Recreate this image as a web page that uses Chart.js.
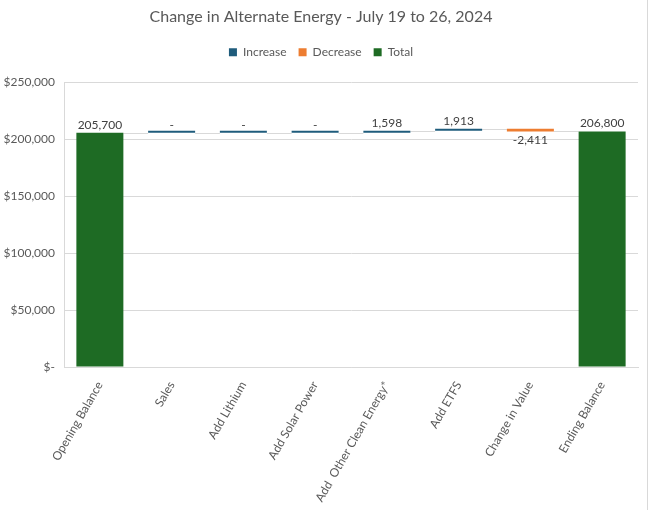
<!DOCTYPE html>
<html>
<head>
<meta charset="utf-8">
<script src="https://cdn.jsdelivr.net/npm/chart.js@4.4.1/dist/chart.umd.min.js"></script>
<style>
  html, body { margin: 0; padding: 0; background: #fff; }
  #wrap { width: 647px; height: 510px; border-right: 1px solid #d9d9d9; }
</style>
</head>
<body>
<div id="wrap"><canvas id="chart" width="647" height="510"></canvas></div>
<script>
// ===== DATA =====
const categories = ['Opening Balance', 'Sales', 'Add Lithium', 'Add Solar Power',
                    'Add  Other Clean Energy*', 'Add ETFS', 'Change in Value', 'Ending Balance'];
const changes = [205700, 0, 0, 0, 1598, 1913, -2411, 206800];
const isTotal = [true, false, false, false, false, false, false, true];
const yTicks = [0, 50000, 100000, 150000, 200000, 250000];

// ===== WATERFALL RANGES =====
let running = 0;
const ranges = [];
const endLevels = [];
changes.forEach(function(v, i){
    if (isTotal[i]) {
        ranges.push([0, v]);
        running = v;
    } else {
        ranges.push([running, running + v]);
        running += v;
    }
    endLevels.push(running);
});

const increaseData = ranges.map(function(r, i){ return (!isTotal[i] && changes[i] >= 0) ? r : null; });
const decreaseData = ranges.map(function(r, i){ return (!isTotal[i] && changes[i] < 0) ? r : null; });
const totalData = ranges.map(function(r, i){ return isTotal[i] ? r : null; });

function fmt(v){
    if (v === 0) return '-';
    return v.toLocaleString('en-US');
}

// extra room under the legend
const legendSpace = {
    id: 'legendSpace',
    beforeInit: function(chart){
        const fit = chart.legend.fit;
        chart.legend.fit = function(){
            fit.bind(chart.legend)();
            this.height += 14;
        };
    }
};

// connector lines + value labels
const waterfallPlugin = {
    id: 'waterfall',
    beforeDatasetsDraw: function(chart){
        const ctx = chart.ctx;
        const x = chart.scales.x, y = chart.scales.y;
        ctx.save();
        ctx.strokeStyle = '#d9d9d9';
        ctx.lineWidth = 1;
        const half = (x.getPixelForValue(1) - x.getPixelForValue(0)) * 0.655 / 2;
        for (let i = 0; i < categories.length - 1; i++) {
            const yy = Math.round(y.getPixelForValue(endLevels[i])) + 0.5;
            ctx.beginPath();
            ctx.moveTo(x.getPixelForValue(i) + half, yy);
            ctx.lineTo(x.getPixelForValue(i + 1) - half, yy);
            ctx.stroke();
        }
        ctx.restore();
    },
    afterDatasetsDraw: function(chart){
        const ctx = chart.ctx;
        const x = chart.scales.x, y = chart.scales.y;
        ctx.save();
        ctx.font = '12px Lato, sans-serif';
        ctx.fillStyle = '#404040';
        ctx.textAlign = 'center';
        changes.forEach(function(v, i){
            const cx = x.getPixelForValue(i);
            const top = y.getPixelForValue(Math.max(ranges[i][0], ranges[i][1]));
            const bot = y.getPixelForValue(Math.min(ranges[i][0], ranges[i][1]));
            if (v < 0) {
                ctx.textBaseline = 'top';
                ctx.fillText(fmt(v), cx, bot + 3);
            } else {
                ctx.textBaseline = 'bottom';
                ctx.fillText(fmt(v), cx, top - 2);
            }
        });
        ctx.restore();
    }
};

// ===== CHART =====
const ctx = document.getElementById('chart').getContext('2d');

new Chart(ctx, {
    type: 'bar',
    data: {
        labels: categories,
        datasets: [
            { label: 'Increase', data: increaseData, backgroundColor: '#1f5c7c' },
            { label: 'Decrease', data: decreaseData, backgroundColor: '#ed7d31' },
            { label: 'Total', data: totalData, backgroundColor: '#1e6b24' }
        ]
    },
    options: {
        responsive: false,
        animation: false,
        layout: { padding: { top: 5, right: 9, left: 4, bottom: 0 } },
        datasets: {
            bar: { categoryPercentage: 1, barPercentage: 0.655, minBarLength: 2 }
        },
        plugins: {
            title: {
                display: true,
                text: 'Change in Alternate Energy - July 19 to 26, 2024',
                color: '#595959',
                font: { family: 'Lato', size: 16, weight: 'normal' },
                padding: { top: 2, bottom: 8 }
            },
            legend: {
                position: 'top',
                labels: {
                    boxWidth: 8, boxHeight: 8,
                    color: '#595959',
                    font: { family: 'Lato', size: 12 },
                    padding: 12
                }
            },
            tooltip: { enabled: false }
        },
        scales: {
            x: {
                stacked: true,
                grid: { display: false },
                border: { color: '#d9d9d9' },
                afterFit: function(axis){ axis.height = 143; },
                ticks: {
                    color: '#595959',
                    font: { family: 'Lato', size: 12 },
                    minRotation: 60, maxRotation: 60,
                    padding: 4
                }
            },
            y: {
                min: 0, max: 250000,
                afterBuildTicks: function(axis){
                    axis.ticks = yTicks.map(function(v){ return { value: v }; });
                },
                afterFit: function(axis){ axis.width = 60; },
                grid: { color: '#d9d9d9', drawTicks: false },
                border: { color: '#d9d9d9' },
                ticks: {
                    color: '#595959',
                    font: { family: 'Lato', size: 12 },
                    padding: 9,
                    callback: function(v){ return v === 0 ? '$-' : '$' + v.toLocaleString('en-US'); }
                }
            }
        }
    },
    plugins: [legendSpace, waterfallPlugin]
});
</script>
</body>
</html>
